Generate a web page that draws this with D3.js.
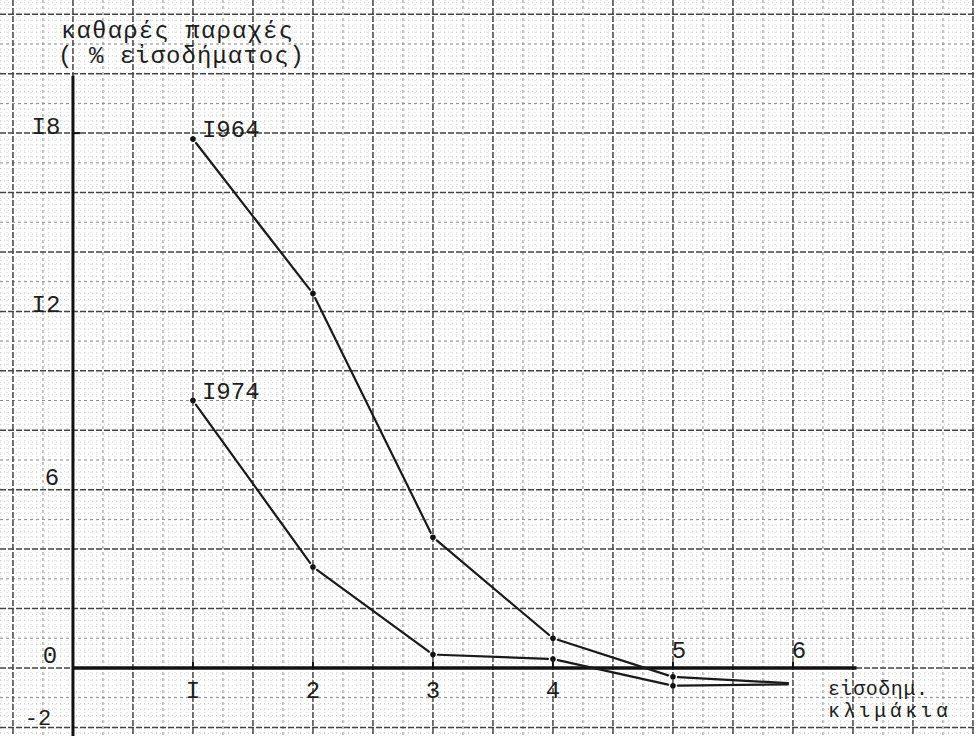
<!DOCTYPE html>
<html>
<head>
<meta charset="utf-8">
<script src="https://cdn.jsdelivr.net/npm/d3@7"></script>
<style>
  html, body { margin: 0; padding: 0; background: #fff; }
  svg { display: block; }
  text { font-family: "Liberation Mono", "DejaVu Sans Mono", monospace; fill: #1e1e1e; }
</style>
</head>
<body>
<svg id="chart" width="975" height="736"></svg>
<script>
// ---- data ----
const categories = [1, 2, 3, 4, 5, 6];
const categoryLabels = ["I", "2", "3", "4", "5", "6"];
const series1964 = [17.8, 12.6, 4.4, 1.0, -0.3, -0.52];
const series1974 = [9.0, 3.4, 0.45, 0.3, -0.6, -0.55];
const seriesNames = ["I964", "I974"];
const yTickValues = [18, 12, 6, 0, -2];
const yTickLabels = ["I8", "I2", "6", "0", "-2"];
const yTitle = ["καθαρές παραχές", "( % εἰσοδήματος)"];
const xTitle = ["εἰσοδημ.", "κλιμάκια"];

const W = 975, H = 736;
const svg = d3.select("#chart");

const x = d3.scaleLinear().domain([-0.608, 7.517]).range([0, W]);
const y = d3.scaleLinear().domain([22.48, -2.29]).range([0, H]);

// ---- graph paper ----
const grid = svg.append("g");
const fineX = d3.range(-0.6, 7.52, 0.05).filter(v => Math.abs(v * 4 - Math.round(v * 4)) > 0.01);
const fineY = d3.range(-2.2, 22.5, 0.2).filter(v => Math.abs(v - Math.round(v)) > 0.01);
grid.selectAll(".fx").data(fineX).join("line")
  .attr("x1", d => x(d)).attr("x2", d => x(d)).attr("y1", 0).attr("y2", H)
  .attr("stroke", "#b0b0b0").attr("stroke-width", 1).attr("stroke-dasharray", "1,3").attr("opacity", 0.6);
grid.selectAll(".fy").data(fineY).join("line")
  .attr("y1", d => y(d)).attr("y2", d => y(d)).attr("x1", 0).attr("x2", W)
  .attr("stroke", "#b0b0b0").attr("stroke-width", 1).attr("stroke-dasharray", "1,3").attr("opacity", 0.6);

const midX = d3.range(-0.25, 7.6, 0.5);
const midY = d3.range(-1, 23, 2);
grid.selectAll(".mx").data(midX).join("line")
  .attr("x1", d => x(d)).attr("x2", d => x(d)).attr("y1", 0).attr("y2", H)
  .attr("stroke", "#8a8a8a").attr("stroke-width", 1).attr("stroke-dasharray", "3,3");
grid.selectAll(".my").data(midY).join("line")
  .attr("y1", d => y(d)).attr("y2", d => y(d)).attr("x1", 0).attr("x2", W)
  .attr("stroke", "#8a8a8a").attr("stroke-width", 1).attr("stroke-dasharray", "3,3");

const majX = d3.range(-0.5, 7.6, 0.5);
const majY = d3.range(-2, 23, 2);
grid.selectAll(".Mx").data(majX).join("line")
  .attr("x1", d => x(d)).attr("x2", d => x(d)).attr("y1", 0).attr("y2", H)
  .attr("stroke", "#444").attr("stroke-width", 1.5).attr("stroke-dasharray", "6,2");
grid.selectAll(".My").data(majY).join("line")
  .attr("y1", d => y(d)).attr("y2", d => y(d)).attr("x1", 0).attr("x2", W)
  .attr("stroke", "#444").attr("stroke-width", 1.5).attr("stroke-dasharray", "6,2");

// ---- axes ----
const axes = svg.append("g");
axes.append("line").attr("x1", x(0)).attr("x2", x(0)).attr("y1", y(20) + 2).attr("y2", H)
  .attr("stroke", "#111").attr("stroke-width", 3);
axes.append("line").attr("x1", x(0)).attr("x2", x(6.53)).attr("y1", y(0)).attr("y2", y(0))
  .attr("stroke", "#111").attr("stroke-width", 3.5);
axes.selectAll(".xt").data(categories).join("line")
  .attr("x1", d => x(d)).attr("x2", d => x(d)).attr("y1", y(0)).attr("y2", y(0) - 6)
  .attr("stroke", "#111").attr("stroke-width", 2);
axes.append("line").attr("x1", x(0)).attr("x2", x(0) + 7).attr("y1", y(18)).attr("y2", y(18))
  .attr("stroke", "#111").attr("stroke-width", 2);

// y labels
const yl = svg.append("g");
const yLabelX = [46, 46, 52, 50, 38];
const yLabelDy = [1, 1, -5, -5, -2];
const yLabelSize = [24, 24, 24, 24, 22];
yl.selectAll("text").data(yTickValues).join("text")
  .attr("x", (d, i) => yLabelX[i])
  .attr("y", (d, i) => y(d) + yLabelDy[i])
  .attr("font-size", (d, i) => yLabelSize[i])
  .attr("text-anchor", "middle")
  .text((d, i) => yTickLabels[i]);

// x labels: 1-4 below the axis, 5-6 above
svg.append("g").attr("font-size", 24).selectAll("text").data(categories).join("text")
  .attr("x", d => x(d) + (d >= 5 ? 6 : 0))
  .attr("y", d => d >= 5 ? y(0) - 10 : y(0) + 30)
  .attr("text-anchor", "middle")
  .text((d, i) => categoryLabels[i]);

// titles
const yt = svg.append("g").attr("font-size", 24);
yt.append("text").attr("x", 61).attr("y", 38)
  .attr("textLength", 232).attr("lengthAdjust", "spacing").text(yTitle[0]);
yt.append("text").attr("x", 58).attr("y", 63)
  .attr("textLength", 246).attr("lengthAdjust", "spacing").text(yTitle[1]);

const xt = svg.append("g").attr("font-size", 20);
xt.append("text").attr("x", 828).attr("y", 695).attr("textLength", 100).text(xTitle[0]);
xt.append("text").attr("x", 828).attr("y", 717).attr("textLength", 120).text(xTitle[1]);

// ---- series ----
const seriesList = [series1964, series1974];
const gap = 5;
seriesList.forEach((vals, si) => {
  const pts = categories.map((c, i) => [x(c), y(vals[i])]);
  const segs = d3.pairs(pts).map(([a, b]) => {
    const dx = b[0] - a[0], dy = b[1] - a[1];
    const len = Math.hypot(dx, dy);
    const ux = dx / len, uy = dy / len;
    return [a[0] + ux * gap, a[1] + uy * gap, b[0] - ux * gap, b[1] - uy * gap];
  });
  const g = svg.append("g");
  g.selectAll("line").data(segs).join("line")
    .attr("x1", d => d[0]).attr("y1", d => d[1]).attr("x2", d => d[2]).attr("y2", d => d[3])
    .attr("stroke", "#1a1a1a").attr("stroke-width", 2.2).attr("stroke-linecap", "round");
  g.selectAll("circle").data(pts.slice(0, 5)).join("circle")
    .attr("cx", d => d[0]).attr("cy", d => d[1]).attr("r", 2.8).attr("fill", "#111");
  g.append("text").attr("x", x(categories[0]) + 9).attr("y", y(vals[0]) - 2)
    .attr("font-size", 24).text(seriesNames[si]);
});
</script>
</body>
</html>
